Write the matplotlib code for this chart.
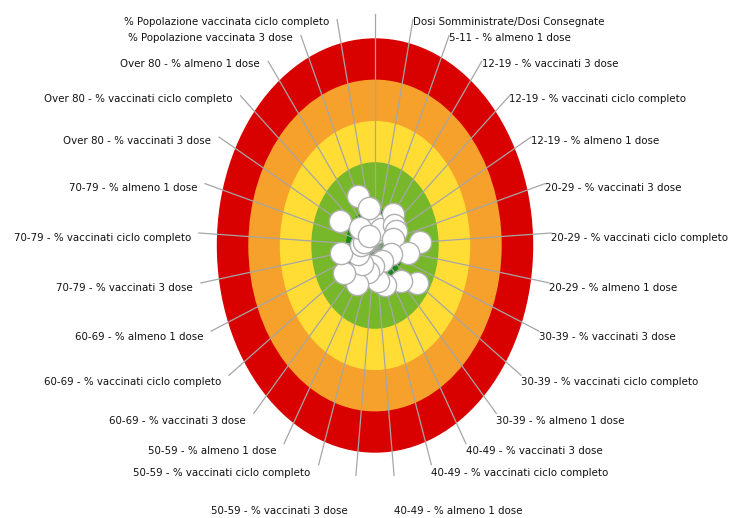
import numpy as np
import matplotlib.pyplot as plt
from matplotlib.patches import Circle

# categorie (la prima senza etichetta, in alto)
categories = [
    '',
    'Dosi Somministrate/Dosi Consegnate',
    '5-11 - % almeno 1 dose',
    '12-19 - % vaccinati 3 dose',
    '12-19 - % vaccinati ciclo completo',
    '12-19 - % almeno 1 dose',
    '20-29 - % vaccinati 3 dose',
    '20-29 - % vaccinati ciclo completo',
    '20-29 - % almeno 1 dose',
    '30-39 - % vaccinati 3 dose',
    '30-39 - % vaccinati ciclo completo',
    '30-39 - % almeno 1 dose',
    '40-49 - % vaccinati 3 dose',
    '40-49 - % vaccinati ciclo completo',
    '40-49 - % almeno 1 dose',
    '50-59 - % vaccinati 3 dose',
    '50-59 - % vaccinati ciclo completo',
    '50-59 - % almeno 1 dose',
    '60-69 - % vaccinati 3 dose',
    '60-69 - % vaccinati ciclo completo',
    '60-69 - % almeno 1 dose',
    '70-79 - % vaccinati 3 dose',
    '70-79 - % vaccinati ciclo completo',
    '70-79 - % almeno 1 dose',
    'Over 80 - % vaccinati 3 dose',
    'Over 80 - % vaccinati ciclo completo',
    'Over 80 - % almeno 1 dose',
    '% Popolazione vaccinata 3 dose',
    '% Popolazione vaccinata ciclo completo',
]

# valori (scala 0-5)
values = [0.3, 0.5, 0.45, 0.97, 0.78, 0.75, 0.6, 1.43, 1.07, 0.55,
          1.62, 1.2, 0.45, 1.02, 0.87, 0.5, 0.68, 1.1, 0.62, 1.2,
          0.57, 1.08, 0.44, 0.35, 1.26, 0.64, 0.3, 1.32, 0.94]

# fasce del bersaglio (raggio esterno, colore)
band_limits = [5, 4, 3, 2, 0.9]
band_colors = ['#d90000', '#f6a12c', '#ffdd35', '#77b82a', '#1a8a1a']

fig = plt.figure(figsize=(7.32, 5.18), dpi=100)
ax = fig.add_axes([0, 0, 1, 1])
sx, sy = 31.5, 41.3  # pixel per unità
cx, cy = 375, 245.5
ax.set_xlim(-cx / sx, (732 - cx) / sx)
ax.set_ylim(-(518 - cy) / sy, cy / sy)
ax.axis('off')

for r, c in zip(band_limits, band_colors):
    ax.add_patch(Circle((0, 0), r, color=c, zorder=1))

n = len(categories)
theta = np.arange(n) * 2 * np.pi / n
R = 5.6
for i, (lab, t) in enumerate(zip(categories, theta)):
    ex, ey = R * np.sin(t), R * np.cos(t)
    ax.plot([0, ex], [0, ey], color='#a6a6a6', lw=0.9, zorder=2)
    if not lab:
        continue
    s, c = np.sin(t), np.cos(t)
    dy = -(2 + 6 * (1 - c) / 2)
    if c < -0.98:
        dy = -36
    if s > 0:
        ha, dx = 'left', 0
    else:
        ha, dx = 'right', -8
    ax.annotate(lab, (ex, ey), xytext=(dx * 0.72, dy * 0.72),
                textcoords='offset points', ha=ha, va='center',
                fontsize=8.2, color='#111111', zorder=4,
                family=['DejaVu Sans'], fontstretch='condensed')

vals = np.array(values)
ax.plot(vals * np.sin(theta), vals * np.cos(theta), 'o', ls='none',
        ms=16, mfc='white', mec='#b0b0b0', mew=1, zorder=3)

plt.savefig('out.png', dpi=100)
